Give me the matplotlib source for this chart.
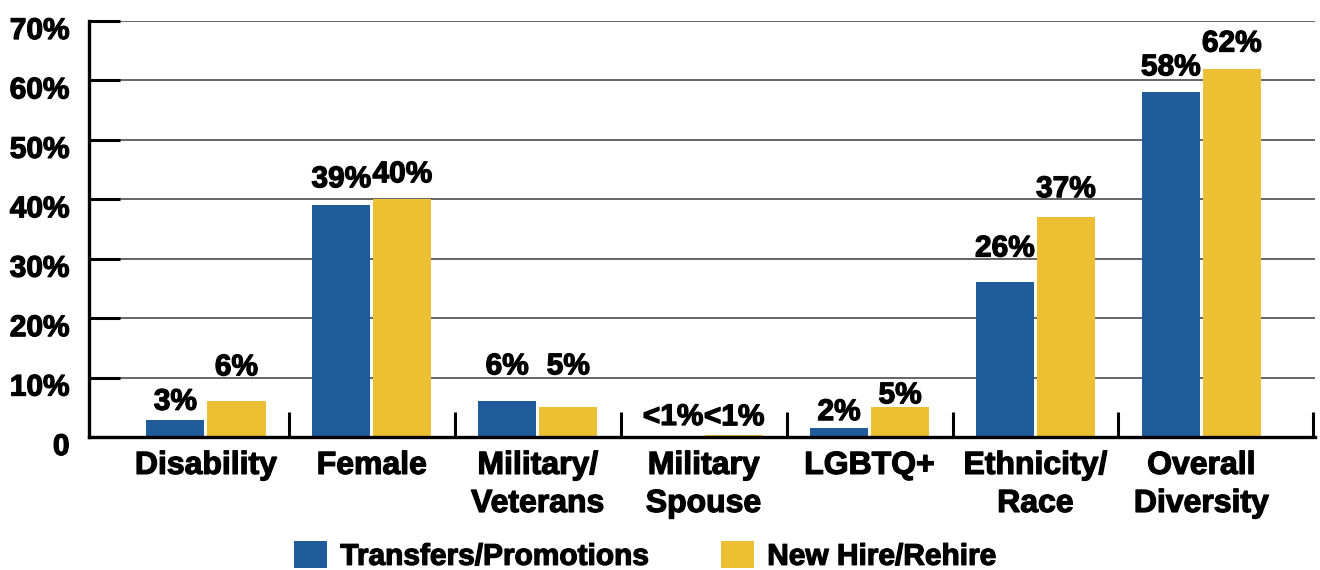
import matplotlib
matplotlib.use("Agg")
import matplotlib.pyplot as plt
import matplotlib.transforms as mtransforms
import matplotlib.patheffects as pe
import numpy as np

plt.rcParams['font.family'] = ['Liberation Sans', 'DejaVu Sans']
plt.rcParams['font.weight'] = 'bold'

# data
categories = ["Disability", "Female", "Military/\nVeterans", "Military\nSpouse",
              "LGBTQ+", "Ethnicity/\nRace", "Overall\nDiversity"]
transfers = [2.9, 39, 6, 0, 1.5, 26, 58]
new_hire = [6, 40, 5, 0.3, 5, 37, 62]
transfers_labels = ["3%", "39%", "6%", "<1%", "2%", "26%", "58%"]
new_hire_labels = ["6%", "40%", "5%", "<1%", "5%", "37%", "62%"]
series_names = ["Transfers/Promotions", "New Hire/Rehire"]
yticks = [0, 10, 20, 30, 40, 50, 60, 70]
ytick_labels = ["0", "10%", "20%", "30%", "40%", "50%", "60%", "70%"]

# gap (px) between bar top and label baseline, as placed in the original
transfers_gap = [10, 18, 27, 12, 8, 26, 17]
new_hire_gap = [26, 17, 33, 10, 4, 20, 17]

BLUE = "#205C9C"
YELLOW = "#ECC032"
heavy = [pe.withStroke(linewidth=0.9, foreground="black")]

fig = plt.figure(figsize=(13.2, 5.7), dpi=100)
ax = fig.add_axes([89 / 1320, 133 / 570, 1226 / 1320, 416 / 570])

x = np.arange(len(categories))
w = 0.35
off = 0.184
b1 = ax.bar(x - off, transfers, w, color=BLUE, label=series_names[0], zorder=2)
b2 = ax.bar(x + off, new_hire, w, color=YELLOW, label=series_names[1], zorder=2)

for bars, labels, gaps in [(b1, transfers_labels, transfers_gap), (b2, new_hire_labels, new_hire_gap)]:
    for rect, lab, g in zip(bars, labels, gaps):
        ax.annotate(lab, (rect.get_x() + rect.get_width() / 2, rect.get_height()),
                    xytext=(0, g * 0.72), textcoords="offset points",
                    ha="center", va="baseline", fontsize=21.5, fontweight="bold",
                    path_effects=heavy)

ax.set_xlim(-0.705, 6.685)
ax.set_ylim(0, 70)

ax.set_yticks(yticks)
ax.set_yticklabels(ytick_labels)
ax.tick_params(axis="y", direction="in", length=22, width=2.2, color="black",
               pad=14, labelsize=21.5)
shift = mtransforms.ScaledTranslation(0, -7 / 100, fig.dpi_scale_trans)
for lab in ax.get_yticklabels():
    lab.set_transform(lab.get_transform() + shift)
    lab.set_fontweight("bold")
    lab.set_path_effects(heavy)

ax.set_xticks(x)
ax.set_xticklabels(categories, fontsize=23, fontweight="bold", linespacing=1.35)
for lab in ax.get_xticklabels():
    lab.set_path_effects(heavy)
ax.tick_params(axis="x", which="major", length=0, pad=10)
ax.set_xticks(list(np.arange(0.5, 6, 1.0)) + [6.675], minor=True)
ax.tick_params(axis="x", which="minor", direction="in", length=18, width=2.2, color="black")

ax.yaxis.grid(True, color="#5a5a5a", linewidth=1.3)
ax.set_axisbelow(True)

for s in ["top", "right"]:
    ax.spines[s].set_visible(False)
for s in ["left", "bottom"]:
    ax.spines[s].set_linewidth(2.4)
    ax.spines[s].set_color("black")
    ax.spines[s].set_zorder(3)

leg = fig.legend(handles=[b1, b2], labels=series_names, loc="center", ncol=2,
                 bbox_to_anchor=(645 / 1320, 1 - 556 / 570), frameon=False,
                 prop={"size": 21.5, "weight": "bold"},
                 handlelength=1.1, handleheight=1.0, handletextpad=0.45, columnspacing=2.4,
                 borderpad=0, borderaxespad=0)
for t in leg.get_texts():
    t.set_path_effects(heavy)

fig.savefig("out.png", dpi=100)
